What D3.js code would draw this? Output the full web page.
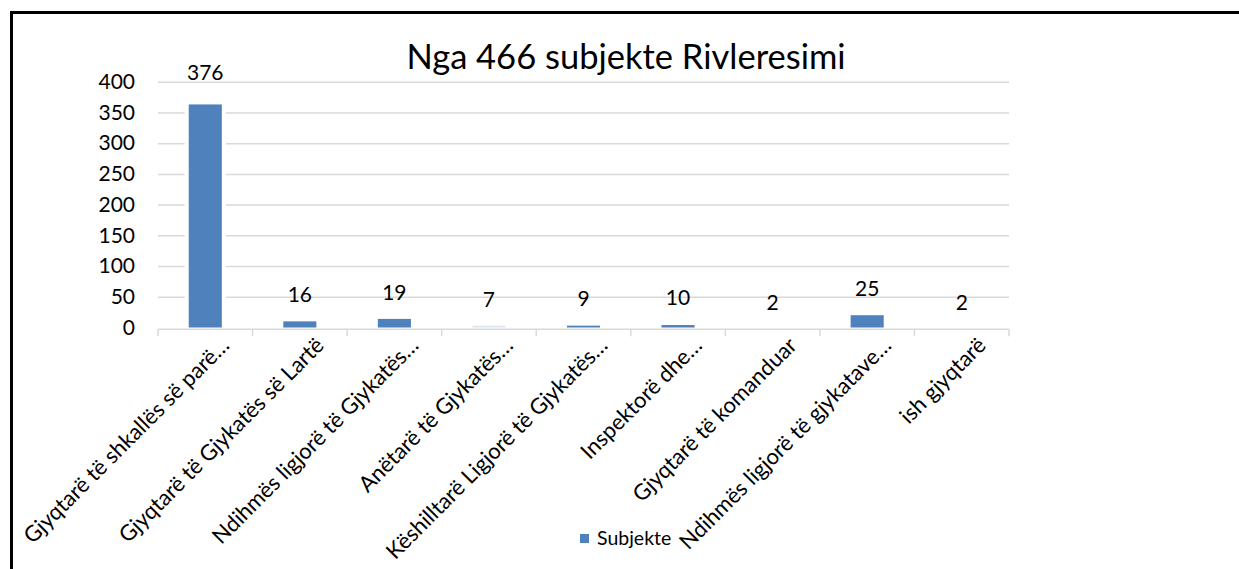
<!DOCTYPE html>
<html>
<head>
<meta charset="utf-8">
<script src="https://cdn.jsdelivr.net/npm/d3@7"></script>
<style>
  html, body { margin: 0; padding: 0; background: #fff; }
  svg { display: block; font-family: Lato, "Open Sans", sans-serif; }
</style>
</head>
<body>
<div id="chart"></div>
<script>
const categories = [
  'Gjyqtarë të shkallës së parë…',
  'Gjyqtarë të Gjykatës së Lartë',
  'Ndihmës ligjorë të Gjykatës…',
  'Anëtarë të Gjykatës…',
  'Këshilltarë Ligjorë të Gjykatës…',
  'Inspektorë dhe…',
  'Gjyqtarë të komanduar',
  'Ndihmës ligjorë të gjykatave…',
  'ish gjyqtarë'
];
// bar heights as drawn in the picture
const barValues = [363, 10, 14, 3, 3, 4, 0, 20, 0];
// numbers printed above the bars
const labelValues = [376, 16, 19, 7, 9, 10, 2, 25, 2];
const yTicks = [0, 50, 100, 150, 200, 250, 300, 350, 400];
const seriesName = 'Subjekte';
const title = 'Nga 466 subjekte Rivleresimi';

const width = 1239, height = 569;
const plot = { left: 158, right: 1009, top: 81.7, bottom: 327.5 };
const blue = '#4f81bd';
const pale = '#dce6f2';
const paleIndex = 3;
const ink = '#000';

const svg = d3.select('#chart').append('svg')
  .attr('width', width)
  .attr('height', height);

// outer frame (runs off the right and bottom edges)
svg.append('rect')
  .attr('x', 11.5).attr('y', 12.5)
  .attr('width', width + 50).attr('height', height + 50)
  .attr('fill', 'none')
  .attr('stroke', '#000')
  .attr('stroke-width', 3);

const x = d3.scaleBand()
  .domain(categories)
  .range([plot.left, plot.right])
  .paddingInner(0.65)
  .paddingOuter(0.325);

const y = d3.scaleLinear()
  .domain([0, 400])
  .range([plot.bottom, plot.top]);

// gridlines
svg.append('g')
  .attr('transform', `translate(${plot.left},0)`)
  .call(d3.axisLeft(y).tickValues(yTicks.slice(1)).tickSize(-(plot.right - plot.left)).tickFormat(''))
  .call(g => g.select('.domain').remove())
  .call(g => g.selectAll('line').attr('stroke', '#d9d9d9').attr('stroke-width', 1.5));

// y tick labels
svg.append('g')
  .attr('transform', `translate(${plot.left - 23},0)`)
  .call(d3.axisLeft(y).tickValues(yTicks).tickSize(0).tickPadding(0))
  .call(g => g.select('.domain').remove())
  .call(g => g.selectAll('text')
    .attr('fill', ink)
    .attr('font-size', 21)
    .attr('font-family', 'Lato, sans-serif'));

// category axis line and ticks at band edges
const axisY = plot.bottom + 1.8;
const step = x.step();
const bounds = categories.map(c => x(c) + x.bandwidth() / 2 - step / 2);
bounds.push(plot.right);
const axisG = svg.append('g');
axisG.append('line')
  .attr('x1', plot.left).attr('x2', plot.right)
  .attr('y1', axisY).attr('y2', axisY)
  .attr('stroke', '#d9d9d9').attr('stroke-width', 1.5);
axisG.selectAll('line.tick')
  .data(bounds)
  .enter().append('line')
  .attr('class', 'tick')
  .attr('x1', d => d).attr('x2', d => d)
  .attr('y1', axisY).attr('y2', axisY + 7)
  .attr('stroke', '#d9d9d9').attr('stroke-width', 1.5);

// bars, with a white gap around them like the original
const bars = svg.append('g');
bars.selectAll('rect.halo')
  .data(barValues)
  .enter().append('rect')
  .attr('class', 'halo')
  .attr('x', (d, i) => x(categories[i]) - 4)
  .attr('width', x.bandwidth() + 8)
  .attr('y', d => y(d))
  .attr('height', d => d > 0 ? y(0) - y(d) : 0)
  .attr('fill', '#fff');
bars.selectAll('rect.bar')
  .data(barValues)
  .enter().append('rect')
  .attr('class', 'bar')
  .attr('x', (d, i) => x(categories[i]))
  .attr('width', x.bandwidth())
  .attr('y', d => y(d))
  .attr('height', d => y(0) - y(d))
  .attr('fill', (d, i) => i === paleIndex ? pale : blue);

// data labels
svg.append('g').selectAll('text')
  .data(labelValues)
  .enter().append('text')
  .attr('x', (d, i) => x(categories[i]) + x.bandwidth() / 2)
  .attr('y', d => y(d) - 16)
  .attr('text-anchor', 'middle')
  .attr('font-size', 21)
  .attr('fill', ink)
  .text(d => d);

// rotated category labels
svg.append('g').selectAll('text')
  .data(categories)
  .enter().append('text')
  .attr('transform', d => `translate(${x(d) + x.bandwidth() / 2 + 20},${axisY + 12}) rotate(-45)`)
  .attr('text-anchor', 'end')
  .attr('dy', '0.35em')
  .attr('font-size', 22)
  .attr('fill', ink)
  .text(d => d);

// title
svg.append('text')
  .attr('x', 626)
  .attr('y', 69)
  .attr('text-anchor', 'middle')
  .attr('font-size', 34.5)
  .attr('fill', ink)
  .text(title);

// legend
const legend = svg.append('g').attr('transform', 'translate(580,534)');
legend.append('rect')
  .attr('width', 9).attr('height', 9)
  .attr('fill', blue);
legend.append('text')
  .attr('x', 17).attr('y', 11)
  .attr('font-size', 19.5)
  .attr('fill', ink)
  .text(seriesName);
</script>
</body>
</html>
